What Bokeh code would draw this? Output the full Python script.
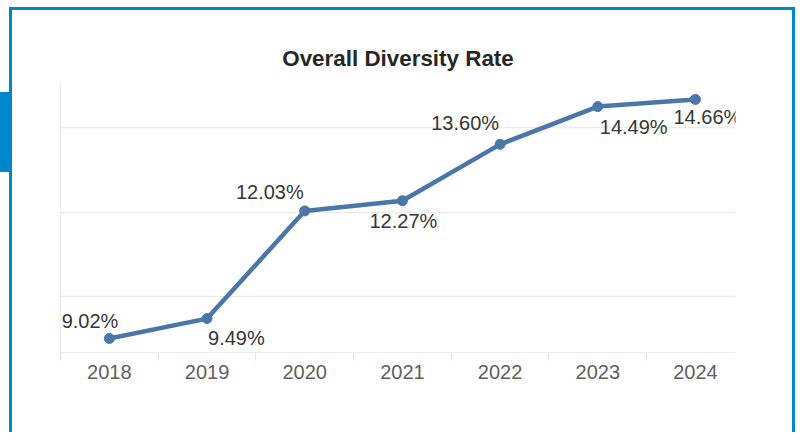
from bokeh.plotting import figure
from bokeh.models import ColumnDataSource, Range1d, FixedTicker
from bokeh.core.properties import value, field
from bokeh.embed import file_html
from bokeh.resources import INLINE

# ---- data ----
years = ["2018", "2019", "2020", "2021", "2022", "2023", "2024"]
rates = [9.02, 9.49, 12.03, 12.27, 13.60, 14.49, 14.66]
grid_values = [10, 12, 14]
title_text = "Overall Diversity Rate"

# ---- label placement (style) ----
label_align = ["right", "left", "right", "center", "right", "left", "left"]
label_dx = [9, 1, -1, 1, -1, 2, -22]
label_dy = [-18, 19, -19, 20, -21, 20, 18]

BLUE = "#0087c9"
LINE = "#4a77a8"
FONT = "Liberation Sans"

xs = list(range(len(years)))
src = ColumnDataSource(dict(
    x=xs, y=rates, label=[f"{r:.2f}%" for r in rates],
    align=label_align, dx=label_dx, dy=label_dy))

p = figure(width=795, height=432, output_backend="svg", toolbar_location=None,
           x_range=Range1d(-0.5, 6.41), y_range=Range1d(8.69, 15.035),
           min_border_left=60, min_border_right=60, min_border_top=83,
           min_border_bottom=80)

bg = "linear-gradient({c},{c})".format(c=BLUE)
p.styles = {
    "background": (
        f"{bg} 0px 92px / 11px 80px no-repeat, "
        f"{bg} 9px 7px / 3px 100% no-repeat, "
        f"{bg} 9px 7px / 786px 3px no-repeat, "
        f"{bg} 792px 7px / 3px 100% no-repeat"
    ),
}
p.border_fill_color = None
p.background_fill_color = None
p.outline_line_color = None

# title
p.title.text = title_text
p.title.align = "center"
p.title.text_font = FONT
p.title.text_font_style = "bold"
p.title.text_font_size = "22.4px"
p.title.text_color = "#262626"
p.title.offset = 3
p.title.standoff = 25

# grid
p.xgrid.visible = False
p.ygrid.ticker = FixedTicker(ticks=grid_values)
p.ygrid.grid_line_color = "#ebebeb"
p.ygrid.grid_line_width = 1.5

# y axis: only a faint line
p.yaxis.ticker = FixedTicker(ticks=[])
p.yaxis.axis_line_color = "#ebebeb"
p.yaxis.major_tick_line_color = None
p.yaxis.minor_tick_line_color = None

# x axis: labels at centers, tick marks at category boundaries
p.xaxis.ticker = FixedTicker(ticks=xs, minor_ticks=[i - 0.5 for i in xs] + [len(xs) - 0.5])
p.xaxis.major_label_overrides = {i: y for i, y in zip(xs, years)}
p.xaxis.major_tick_in = 0
p.xaxis.major_tick_out = 0
p.xaxis.minor_tick_in = 0
p.xaxis.minor_tick_out = 8
p.xaxis.minor_tick_line_color = "#e3e3e3"
p.xaxis.axis_line_color = "#ebebeb"
p.xaxis.major_label_standoff = 4
p.xaxis.major_label_text_font = FONT
p.xaxis.major_label_text_font_size = "20px"
p.xaxis.major_label_text_color = "#5f5f5f"

# line + markers
p.line("x", "y", source=src, line_color=LINE, line_width=4.5, line_join="round")
p.scatter("x", "y", source=src, size=10, fill_color=LINE, line_color=LINE)

# data labels
p.text("x", "y", text="label", source=src,
       text_align=field("align"), text_baseline=value("alphabetic"),
       x_offset=field("dx"), y_offset=field("dy"),
       text_font=value(FONT), text_font_size=value("20px"),
       text_color="#363636")

open("out.html", "w").write(file_html(p, INLINE))
